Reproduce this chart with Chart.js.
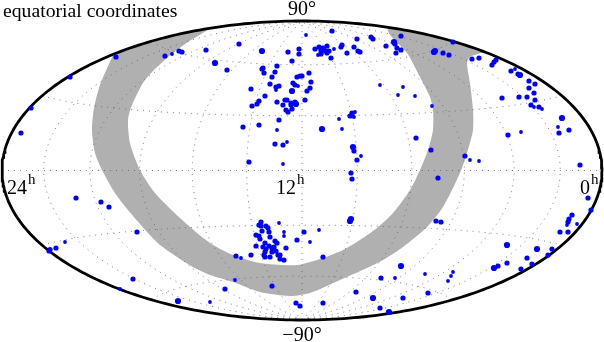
<!DOCTYPE html>
<html>
<head>
<meta charset="utf-8">
<style>html,body{margin:0;padding:0;background:#fff}canvas{display:block}</style>
<script src="https://cdn.jsdelivr.net/npm/chart.js@4"></script>
</head>
<body>
<canvas id="c" width="604" height="342"></canvas>
<script>
const titleText = "equatorial coordinates";
const poleLabels = ["90°", "\u221290°"];
const hourLabels = ["24", "12", "0"];
const hourLabelX = [7, 276, 580];
const meridians = [-180, -150, -120, -90, -60, -30, 0, 30, 60, 90, 120, 150, 180];
const parallels = [-60, -30, 0, 30, 60];

const smallPts = [[172,54],[298,86],[276,90],[277,130],[287,142],[283,164],[306,35],[515,69],[534,107],[542,109],[558,127],[521,132],
[318,55],[334,49],[380,85],[403,87],[398,95],[415,96],[432,106],[355,112],[354,117],[339,119],[342,129],[361,156],[470,160],[479,161],
[65,242],[120,289],[210,302],[235,280],[241,258],[279,223],[284,232],[284,236],[319,230],[310,242],[395,278],[425,274],[453,272],[451,276],[448,281],[577,224],[567,225]];
const midPts = [[116,57],[70,77],[31,108],[21,133],[165,56],[179,51],[182,52],[206,50],[239,44],[227,70],[288,52],[299,49],[299,54],[292,61],[277,66],[262,69],[263,68],[264,73],[275,72],[272,77],[297,77],[300,76],[270,84],[293,83],[295,85],[279,86],[276,87],[251,89],[265,96],[259,101],[257,104],[252,106],[277,102],[285,100],[287,100],[283,105],[291,103],[295,102],[291,105],[292,109],[286,110],[288,112],[279,120],[259,125],[243,127],[275,144],[283,145],[249,162],
[332,31],[371,37],[373,39],[357,39],[401,36],[395,44],[386,46],[397,48],[401,50],[396,53],[453,42],[443,53],[449,55],[472,59],[479,58],[496,60],[494,62],[492,65],[511,71],[518,74],[529,81],[535,84],[529,88],[534,93],[502,98],[519,97],[527,97],[535,100],[531,105],[539,107],[559,133],[569,130],[508,135],[580,165],
[315,49],[319,47],[321,50],[323,48],[324,50],[327,46],[326,51],[329,51],[327,53],[321,53],[321,54],[331,58],[342,45],[341,47],[347,53],[354,47],[358,51],[360,52],[309,73],[302,76],[311,82],[310,88],[307,91],[305,100],[352,113],[350,116],[352,115],[416,138],[354,151],[357,160],[431,150],[465,156],
[76,198],[101,202],[109,207],[137,232],[56,248],[50,249.5],[49,251],[133,279],[225,289],[272,286],[236,256],[251,255],[296,303],[300,306],[297,240],
[261,222],[259,225],[261,226],[266,226],[268,228],[262,231],[269,232],[256,235],[259,236],[260,239],[270,237],[275,241],[277,243],[265,243],[256,246],[263,247],[269,246],[274,247],[286,248],[266,249],[272,248],[265,252],[272,252],[276,251],[280,255],[264,255],[265,257],[270,257],[278,255],[280,259],[284,260],
[351,173],[352,179],[438,178],[436,221],[441,222],[304,232],[323,257],[381,278],[356,292],[403,298],[428,293],[323,303],[380,308],[498,266],[507,263],[521,269],[527,258],[532,264],[548,255],[552,249],[560,232],[568,232],[568,222],[569,219],[572,215],[591,210],[588,198]];
const largePts = [[215,63],[262,51],[292,91],[296,104],[394,42],[434,52],[435,51],[520,75],[562,118],[322,129],[353,147],[178,301],[351,219],[350,221],[401,266],[373,298],[389,312],[494,268],[507,245],[537,249]];

// corners are listed twice so the curve stays sharp there
const zoneOutline = [[113,55],[113,55],[150,41.6],[180,34],[213,27],[213,27],[188,42],[168,57],[145,80],[132,105],[128,120],[130,143],[140,170],[155,193],[180,218],[210,243],[233,255],[260,263],[297,265],[323,258],[343,250],[360,240],[377,228],[393,213],[410,190],[420,170],[428,150],[433,130],[433,110],[430,97],[420,77],[407,53],[390,35],[387,28],[387,28],
[420,33],[453,42],[484,52],[484,52],[470,57],[467,63],[470,83],[473,110],[473,130],[467,153],[460,173],[443,207],[427,227],[403,247],[383,260],[367,268],[340,280],[310,293],[290,296],[260,292],[233,282],[210,275],[193,267],[177,257],[160,245],[148,233],[128,210],[115,193],[102,170],[95,153],[92,130],[94,108],[100,85],[113,55],[113,55]];

// Hammer-Aitoff projection, expressed in the plot's scale units
const CX = 302, CY = 170.5, RX = 300, RY = 149.5;
function hammer(lonDeg, latDeg) {
  const l = lonDeg * Math.PI / 180, p = latDeg * Math.PI / 180;
  const d = Math.sqrt(1 + Math.cos(p) * Math.cos(l / 2));
  return { x: CX + RX * Math.cos(p) * Math.sin(l / 2) / d, y: CY - RY * Math.sin(p) / d };
}
const toXY = a => a.map(p => ({ x: p[0], y: p[1] }));
const steps = n => Array.from({ length: n + 1 }, (_, i) => i / n);
const meridianLine = lon => steps(180).map(t => hammer(lon, -90 + 180 * t));
const parallelLine = lat => steps(180).map(t => hammer(-180 + 360 * t, lat));

const grid = { showLine: true, pointRadius: 0, borderColor: "#606060", borderWidth: 0.8, borderDash: [1, 5], fill: false };
const dots = (pts, r) => ({ data: toXY(pts), showLine: false, pointRadius: r, pointBorderWidth: 0, pointBackgroundColor: "#0000ff", pointHoverRadius: r });

const datasets = [
  dots(largePts, 3.1), dots(midPts, 2.6), dots(smallPts, 1.9),
  { data: meridianLine(-180), showLine: true, pointRadius: 0, borderColor: "#000", borderWidth: 2.8, fill: false },
  { data: meridianLine(180), showLine: true, pointRadius: 0, borderColor: "#000", borderWidth: 2.8, fill: false },
  ...meridians.slice(1, -1).map(m => ({ ...grid, data: meridianLine(m) })),
  ...parallels.map(p => ({ ...grid, data: parallelLine(p) })),
  { data: toXY(zoneOutline), showLine: true, pointRadius: 0, borderWidth: 0, borderColor: "#b0b0b0", backgroundColor: "#b0b0b0", fill: "shape", tension: 0.25 }
];

const textPlugin = {
  id: "labels",
  afterDraw(chart) {
    const c = chart.ctx, sx = chart.scales.x, sy = chart.scales.y;
    c.save();
    c.fillStyle = "#000";
    c.textBaseline = "alphabetic";
    c.font = '19.7px "Liberation Serif"';
    c.textAlign = "left";
    c.fillText(titleText, sx.getPixelForValue(3), sy.getPixelForValue(17));
    c.font = '20px "Liberation Serif"';
    c.textAlign = "center";
    c.fillText(poleLabels[0], sx.getPixelForValue(302), sy.getPixelForValue(15));
    c.fillText(poleLabels[1], sx.getPixelForValue(302), sy.getPixelForValue(341));
    c.textAlign = "left";
    hourLabels.forEach((h, i) => {
      const px = sx.getPixelForValue(hourLabelX[i]);
      c.font = '20px "Liberation Serif"';
      c.fillText(h, px, sy.getPixelForValue(194));
      const w = c.measureText(h).width;
      c.font = '15px "Liberation Serif"';
      c.fillText("h", px + w + 1, sy.getPixelForValue(184));
    });
    c.restore();
  }
};

new Chart(document.getElementById("c"), {
  type: "scatter",
  data: { datasets },
  plugins: [textPlugin],
  options: {
    responsive: false,
    animation: false,
    devicePixelRatio: 1,
    layout: { padding: 0, autoPadding: false },
    plugins: { legend: { display: false }, tooltip: { enabled: false }, title: { display: false } },
    elements: { line: { tension: 0 } },
    scales: {
      x: { type: "linear", min: 0, max: 604, display: false },
      y: { type: "linear", min: 0, max: 342, reverse: true, display: false }
    }
  }
});
</script>
</body>
</html>
